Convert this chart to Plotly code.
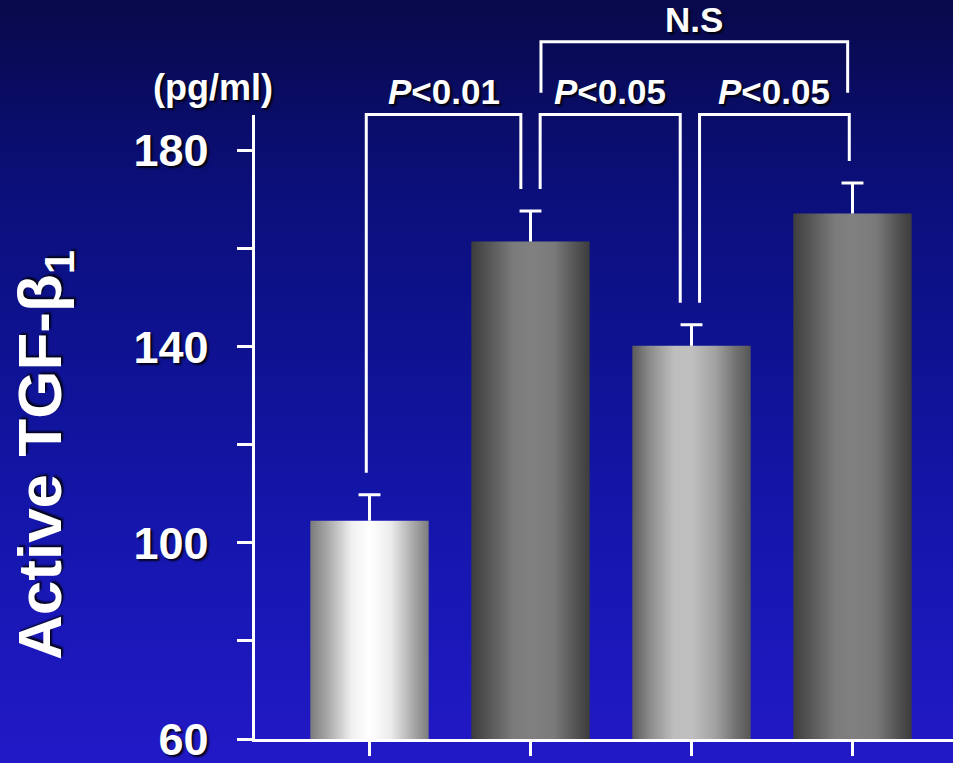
import plotly.graph_objects as go

# ---- data -------------------------------------------------------------
mean_tgf = [104.5, 161.5, 140.2, 167.2]      # active TGF-beta1, pg/ml
sem_tgf = [5.3, 6.2, 4.3, 6.2]               # upward error bars
y_tick_values = [60, 100, 140, 180]
y_tick_labels = ["60", "100", "140", "180"]
y_minor_step = 20
comparisons = [(0, 1), (1, 2), (2, 3), (1, 3)]
comparison_labels = ["<i>P</i>&lt;0.01", "<i>P</i>&lt;0.05", "<i>P</i>&lt;0.05", "N.S"]

# ---- geometry / style -------------------------------------------------
W, H = 953, 763
FONT = "Liberation Sans, Arial, sans-serif"
SHADOW = "2px 2px 2px rgba(0,0,0,0.85)"
WHITE = "#ffffff"

PLOT_LEFT_PX = 254.5
PLOT_BOTTOM_PX = 739.0
PLOT_TOP_PX = 115.0
PX_PER_UNIT = 4.9025
Y_MIN = 60.0
FIRST_CENTER_PX = 369.5
PITCH_PX = 161.0
BAR_WIDTH = 0.735
CAP_HALF = 0.068

x_range = [(PLOT_LEFT_PX - FIRST_CENTER_PX) / PITCH_PX, (W - FIRST_CENTER_PX) / PITCH_PX]
y_main_top = Y_MIN + (PLOT_BOTTOM_PX - PLOT_TOP_PX) / PX_PER_UNIT
y_full_top = Y_MIN + PLOT_BOTTOM_PX / PX_PER_UNIT
dom_bottom = (H - PLOT_BOTTOM_PX) / H
dom_top = (H - PLOT_TOP_PX) / H

bar_scales = [
    [[0, "#7b7b7b"], [0.15, "#a9a9a9"], [0.35, "#f0f0f0"], [0.5, "#ffffff"],
     [0.68, "#ececec"], [0.87, "#a8a8a8"], [1, "#7d7d7d"]],
    [[0, "#3c3c3c"], [0.15, "#565656"], [0.35, "#7a7a7a"], [0.5, "#808080"],
     [0.7, "#7a7a7a"], [0.86, "#585858"], [1, "#3c3c3c"]],
    [[0, "#5a5a5a"], [0.15, "#8c8c8c"], [0.35, "#bdbdbd"], [0.5, "#c0c0c0"],
     [0.7, "#a2a2a2"], [0.88, "#707070"], [1, "#565656"]],
    [[0, "#3e3e3e"], [0.15, "#575757"], [0.35, "#7b7b7b"], [0.5, "#808080"],
     [0.7, "#7a7a7a"], [0.86, "#575757"], [1, "#3c3c3c"]],
]

# bracket styling: leg offsets from bar centres, level, fixed leg drop (None = down to cap)
bracket_offsets = [(-0.02, -0.06), (0.06, -0.07), (0.05, -0.02), (0.065, -0.03)]
bracket_levels = [187.4, 187.4, 187.4, 202.2]
bracket_drop = [None, None, None, 10.4]
LEG_GAP = 4.5
LABEL_LIFT = 4.6

fig = go.Figure()

# page background: vertical navy-to-blue gradient on a full-page axis pair
fig.add_trace(go.Scatter(
    x=[0, 1, 1, 0, 0], y=[0, 0, 1, 1, 0], mode="lines",
    line=dict(width=0), fill="toself",
    fillgradient=dict(type="vertical", colorscale=[
        [0, "#2219c6"], [0.25, "#1717b2"], [0.5, "#0f1396"],
        [0.75, "#0b0f7a"], [1, "#08094a"]]),
    xaxis="x", yaxis="y", hoverinfo="skip", showlegend=False))

# bars with cylindrical shading
for i, (m, cs) in enumerate(zip(mean_tgf, bar_scales)):
    x0, x1 = i - BAR_WIDTH / 2, i + BAR_WIDTH / 2
    fig.add_trace(go.Scatter(
        x=[x0, x1, x1, x0, x0], y=[Y_MIN, Y_MIN, m, m, Y_MIN],
        mode="lines", line=dict(width=0), fill="toself",
        fillgradient=dict(type="horizontal", colorscale=cs),
        xaxis="x2", yaxis="y2", hoverinfo="skip", showlegend=False))

# one-sided error bars
ex, ey = [], []
for i, (m, e) in enumerate(zip(mean_tgf, sem_tgf)):
    ex += [i, i, None, i - CAP_HALF, i + CAP_HALF, None]
    ey += [m, m + e, None, m + e, m + e, None]
fig.add_trace(go.Scatter(x=ex, y=ey, mode="lines", line=dict(color=WHITE, width=3),
                         xaxis="x2", yaxis="y2", hoverinfo="skip", showlegend=False))

# significance brackets
bx, by = [], []
annotations = []
for (a, b), (oa, ob), lvl, drop, lab in zip(comparisons, bracket_offsets,
                                             bracket_levels, bracket_drop, comparison_labels):
    xa, xb = a + oa, b + ob
    if drop is None:
        ya = mean_tgf[a] + sem_tgf[a] + LEG_GAP
        yb = mean_tgf[b] + sem_tgf[b] + LEG_GAP
    else:
        ya = yb = lvl - drop
    bx += [xa, xa, xb, xb, None]
    by += [ya, lvl, lvl, yb, None]
    annotations.append(dict(
        x=(xa + xb) / 2, y=lvl + LABEL_LIFT, xref="x2", yref="y3",
        text=lab, showarrow=False, xanchor="center", yanchor="middle",
        font=dict(family=FONT, size=35, color=WHITE, weight="bold", shadow=SHADOW)))
fig.add_trace(go.Scatter(x=bx, y=by, mode="lines", line=dict(color=WHITE, width=3),
                         xaxis="x2", yaxis="y3", hoverinfo="skip", showlegend=False))

annotations.append(dict(
    x=44 / W, y=1 - 455 / H, xref="paper", yref="paper", textangle=-90,
    text="Active TGF-β<sub>1</sub>", showarrow=False, xanchor="center", yanchor="middle",
    font=dict(family=FONT, size=62, color=WHITE, weight="bold", shadow=SHADOW)))
annotations.append(dict(
    x=213 / W, y=1 - 88 / H, xref="paper", yref="paper",
    text="(pg/ml)", showarrow=False, xanchor="center", yanchor="middle",
    font=dict(family=FONT, size=36, color=WHITE, weight="bold", shadow=SHADOW)))

fig.update_layout(
    width=W, height=H, autosize=False,
    margin=dict(l=0, r=0, t=0, b=0, pad=0, autoexpand=False),
    paper_bgcolor="#2219c6", plot_bgcolor="rgba(0,0,0,0)",
    showlegend=False, hovermode=False,
    xaxis=dict(domain=[0, 1], range=[0, 1], visible=False, fixedrange=True),
    yaxis=dict(domain=[0, 1], range=[0, 1], visible=False, fixedrange=True),
    xaxis2=dict(domain=[PLOT_LEFT_PX / W, 1], range=x_range, anchor="y2",
                showline=True, linecolor=WHITE, linewidth=3,
                ticks="outside", ticklen=14, tickwidth=3, tickcolor=WHITE,
                tickvals=list(range(len(mean_tgf))), showticklabels=False,
                showgrid=False, zeroline=False, fixedrange=True, automargin=False),
    yaxis2=dict(domain=[dom_bottom, dom_top], range=[Y_MIN, y_main_top], anchor="x2",
                showline=True, linecolor=WHITE, linewidth=3,
                ticks="outside", ticklen=15, tickwidth=3, tickcolor=WHITE,
                tickvals=y_tick_values, ticktext=y_tick_labels, ticklabelstandoff=19,
                ticklabeloverflow="allow", automargin=False,
                minor=dict(tick0=Y_MIN, dtick=y_minor_step, ticks="outside", ticklen=15,
                           tickwidth=3, tickcolor=WHITE, showgrid=False),
                tickfont=dict(family=FONT, size=45, color=WHITE, weight="bold", shadow=SHADOW),
                showgrid=False, zeroline=False, fixedrange=True),
    yaxis3=dict(domain=[dom_bottom, 1], range=[Y_MIN, y_full_top], anchor="x2",
                visible=False, fixedrange=True),
    annotations=annotations,
)

fig.write_html("out.html", config={"displayModeBar": False})
